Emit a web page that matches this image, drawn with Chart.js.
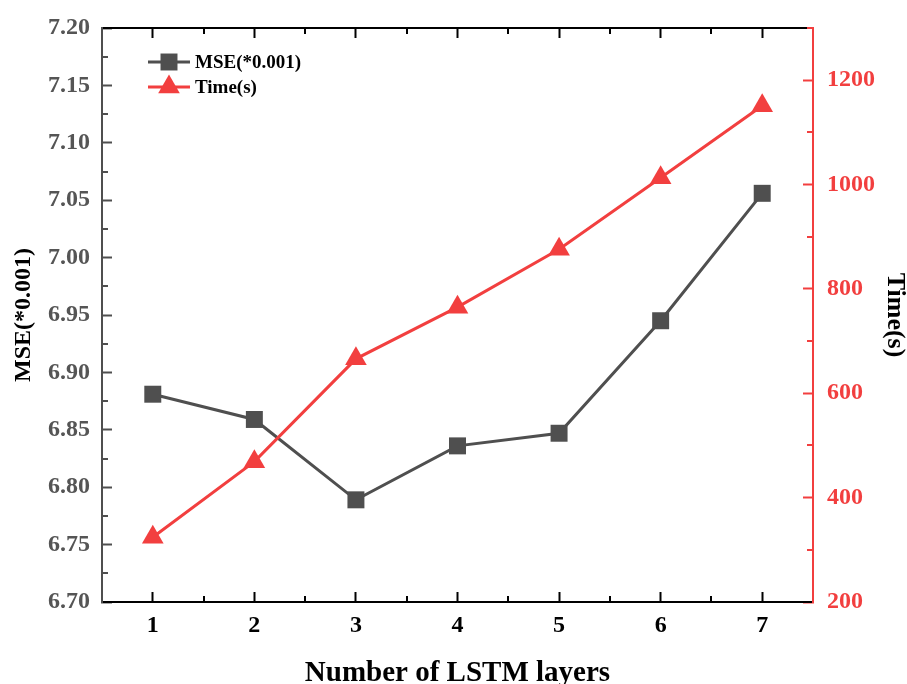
<!DOCTYPE html>
<html>
<head>
<meta charset="utf-8">
<script src="https://cdn.jsdelivr.net/npm/chart.js@4/dist/chart.umd.min.js"></script>
<style>
  html, body { margin: 0; padding: 0; background: #fff; }
  #wrap { width: 907px; height: 684px; }
</style>
</head>
<body>
<div id="wrap"><canvas id="myChart" width="907" height="684"></canvas></div>
<script>
const layers = [1, 2, 3, 4, 5, 6, 7];
const mse = [6.881, 6.859, 6.789, 6.836, 6.847, 6.945, 7.056];
const timeSec = [324, 469, 666, 765, 876, 1013, 1151];
const mseTicks = [6.70, 6.75, 6.80, 6.85, 6.90, 6.95, 7.00, 7.05, 7.10, 7.15, 7.20];
const timeTicks = [200, 400, 600, 800, 1000, 1200];

const serif = "'Liberation Serif', 'Times New Roman', serif";
const grisMse = "#4f4f4f";
const rojoTime = "#f23f3f";

// marcas menores: a mitad de camino entre las mayores
function minores(ticks) {
  const res = [];
  for (let i = 0; i < ticks.length - 1; i++) res.push((ticks[i] + ticks[i + 1]) / 2);
  return res;
}

const minorTicks = {
  id: "minorTicks",
  afterDraw(chart) {
    const ctx = chart.ctx;
    const a = chart.chartArea;
    const len = 6;
    ctx.save();
    ctx.lineWidth = 2;
    ctx.strokeStyle = "#000";
    minores(layers).forEach((v) => {
      const x = Math.round(chart.scales.x.getPixelForValue(v));
      ctx.beginPath(); ctx.moveTo(x, a.bottom); ctx.lineTo(x, a.bottom - len); ctx.stroke();
      ctx.beginPath(); ctx.moveTo(x, a.top); ctx.lineTo(x, a.top + len); ctx.stroke();
    });
    ctx.strokeStyle = grisMse;
    minores(mseTicks).forEach((v) => {
      const y = Math.round(chart.scales.y.getPixelForValue(v));
      ctx.beginPath(); ctx.moveTo(a.left, y); ctx.lineTo(a.left + len, y); ctx.stroke();
    });
    ctx.strokeStyle = rojoTime;
    minores(timeTicks.concat([1400])).forEach((v) => {
      if (v > chart.scales.y2.max) return;
      const y = Math.round(chart.scales.y2.getPixelForValue(v));
      ctx.beginPath(); ctx.moveTo(a.right, y); ctx.lineTo(a.right - len, y); ctx.stroke();
    });
    ctx.restore();
  },
};

// leyenda propia: linea + marcador + texto
const leyenda = {
  id: "leyenda",
  afterDraw(chart) {
    const ctx = chart.ctx;
    ctx.save();
    chart.data.datasets.forEach((ds, i) => {
      const y = 62 + i * 25;
      ctx.strokeStyle = ds.borderColor;
      ctx.lineWidth = 3;
      ctx.beginPath(); ctx.moveTo(148, y); ctx.lineTo(190, y); ctx.stroke();
      ctx.fillStyle = ds.borderColor;
      const r = ds.pointRadius;
      ctx.beginPath();
      if (ds.pointStyle === "rect") {
        const s = Math.SQRT1_2 * r;
        ctx.rect(169 - s, y - s, 2 * s, 2 * s);
      } else {
        ctx.moveTo(169, y - r);
        ctx.lineTo(169 + r * Math.sqrt(3) / 2, y + r / 2);
        ctx.lineTo(169 - r * Math.sqrt(3) / 2, y + r / 2);
        ctx.closePath();
      }
      ctx.fill();
      ctx.fillStyle = "#000";
      ctx.font = "bold 19px " + serif;
      ctx.textBaseline = "middle";
      ctx.fillText(ds.label, 195, y + 1);
    });
    ctx.restore();
  },
};

// ancho fijo del eje y sin el relleno extra de las etiquetas
function ejeVertical(ancho) {
  return (axis) => {
    axis.width = ancho;
    axis.paddingTop = 0;
    axis.paddingBottom = 0;
  };
}

const config = {
  type: "line",
  data: {
    datasets: [
      {
        label: "MSE(*0.001)",
        data: layers.map((l, i) => ({ x: l, y: mse[i] })),
        yAxisID: "y",
        borderColor: grisMse,
        backgroundColor: grisMse,
        borderWidth: 3,
        pointStyle: "rect",
        pointRadius: 12,
        pointBorderWidth: 0,
        order: 2,
      },
      {
        label: "Time(s)",
        data: layers.map((l, i) => ({ x: l, y: timeSec[i] })),
        yAxisID: "y2",
        borderColor: rojoTime,
        backgroundColor: rojoTime,
        borderWidth: 3,
        pointStyle: "triangle",
        pointRadius: 12.5,
        pointBorderWidth: 0,
        order: 1,
      },
    ],
  },
  options: {
    responsive: false,
    animation: false,
    layout: { padding: 0 },
    plugins: { legend: { display: false }, tooltip: { enabled: false } },
    scales: {
      x: {
        type: "linear",
        position: "bottom",
        min: 0.5,
        max: 7.5,
        afterBuildTicks: (axis) => { axis.ticks = layers.map((v) => ({ value: v })); },
        afterFit: (axis) => { axis.height = 82; },
        grid: { drawOnChartArea: false, tickLength: -10, tickWidth: 2, tickColor: "#000" },
        border: { color: "#000", width: 2 },
        ticks: { color: "#000", padding: 19, font: { family: serif, size: 24, weight: "bold" } },
        title: {
          display: true,
          text: "Number of LSTM layers",
          color: "#000",
          font: { family: serif, size: 29, weight: "bold" },
          padding: { top: 0, bottom: -7 },
        },
      },
      xTop: {
        type: "linear",
        position: "top",
        min: 0.5,
        max: 7.5,
        afterBuildTicks: (axis) => { axis.ticks = layers.map((v) => ({ value: v })); },
        afterFit: (axis) => { axis.height = 28; },
        grid: { drawOnChartArea: false, tickLength: -10, tickWidth: 2, tickColor: "#000" },
        border: { color: "#000", width: 2 },
        ticks: { display: false },
      },
      y: {
        type: "linear",
        position: "left",
        min: 6.7,
        max: 7.2,
        afterBuildTicks: (axis) => { axis.ticks = mseTicks.map((v) => ({ value: v })); },
        afterFit: ejeVertical(102),
        grid: { drawOnChartArea: false, tickLength: -10, tickWidth: 2, tickColor: grisMse },
        border: { color: grisMse, width: 2 },
        ticks: {
          color: "#555",
          padding: 22,
          font: { family: serif, size: 24, weight: "bold" },
          callback: (v) => Number(v).toFixed(2),
        },
        title: {
          display: true,
          text: "MSE(*0.001)",
          color: "#000",
          font: { family: serif, size: 24, weight: "bold" },
          padding: { top: 9, bottom: 0 },
        },
      },
      y2: {
        type: "linear",
        position: "right",
        min: 200,
        max: 1300,
        afterBuildTicks: (axis) => { axis.ticks = timeTicks.map((v) => ({ value: v })); },
        afterFit: ejeVertical(94),
        grid: { drawOnChartArea: false, tickLength: -10, tickWidth: 2, tickColor: rojoTime },
        border: { color: rojoTime, width: 2 },
        ticks: {
          color: rojoTime,
          padding: 24,
          font: { family: serif, size: 24, weight: "bold" },
          callback: (v) => String(v),
        },
        title: {
          display: true,
          text: "Time(s)",
          color: "#000",
          font: { family: serif, size: 26, weight: "bold" },
          padding: { top: -3, bottom: 0 },
        },
      },
    },
  },
  plugins: [minorTicks, leyenda],
};

new Chart(document.getElementById("myChart"), config);
</script>
</body>
</html>
